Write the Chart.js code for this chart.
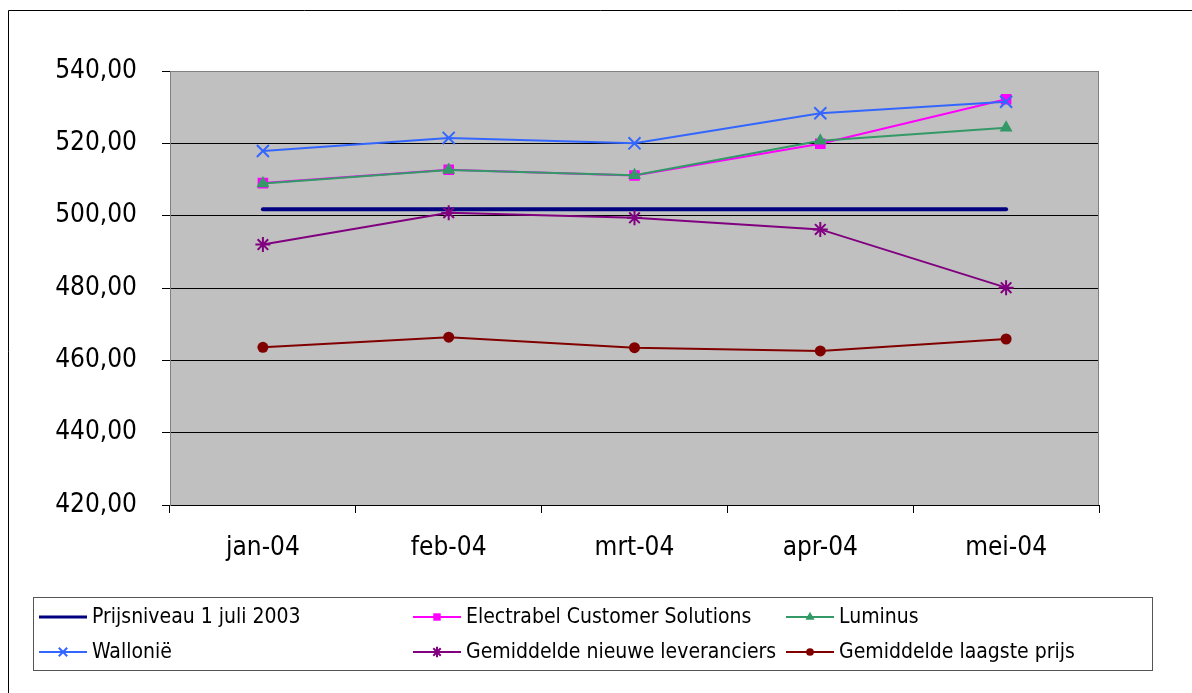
<!DOCTYPE html>
<html>
<head>
<meta charset="utf-8">
<script src="https://cdn.jsdelivr.net/npm/chart.js@4/dist/chart.umd.min.js"></script>
<style>
html, body { margin: 0; padding: 0; background: #fff; }
</style>
</head>
<body>
<canvas id="prijsChart" width="1192" height="693"></canvas>
<script>
// gegevens
const maanden = ['jan-04', 'feb-04', 'mrt-04', 'apr-04', 'mei-04'];
const prijsniveau = [501.8, 501.8, 501.8, 501.8, 501.8];
const electrabel = [509.0, 512.7, 511.1, 519.9, 532.2];
const luminus = [508.9, 512.6, 511.2, 520.7, 524.3];
const wallonie = [517.9, 521.5, 520.0, 528.3, 531.5];
const gemNieuwe = [492.0, 500.8, 499.4, 496.2, 480.1];
const gemLaagste = [463.6, 466.4, 463.5, 462.6, 465.9];
const yTicks = [420, 440, 460, 480, 500, 520, 540];

const fontFam = "'DejaVu Sans Condensed', 'DejaVu Sans', sans-serif";

// achtergrond, kaders en legende
const kaderPlugin = {
    id: 'kader',
    beforeDraw: function (chart) {
        let ctx = chart.ctx;
        let a = chart.chartArea;
        ctx.save();
        ctx.fillStyle = '#ffffff';
        ctx.fillRect(0, 0, chart.width, chart.height);
        ctx.fillStyle = '#c0c0c0';
        ctx.fillRect(a.left, a.top, a.right - a.left, a.bottom - a.top);
        ctx.restore();
    },
    afterDraw: function (chart) {
        let ctx = chart.ctx;
        let a = chart.chartArea;
        ctx.save();
        // rand plotgebied boven en rechts
        ctx.strokeStyle = '#808080';
        ctx.lineWidth = 1;
        ctx.beginPath();
        ctx.moveTo(a.left, a.top + 0.5);
        ctx.lineTo(a.right - 0.5, a.top + 0.5);
        ctx.lineTo(a.right - 0.5, a.bottom);
        ctx.stroke();

        // buitenkader (alleen links en boven zichtbaar)
        ctx.strokeStyle = '#000000';
        ctx.beginPath();
        ctx.moveTo(8.5, chart.height);
        ctx.lineTo(8.5, 10.5);
        ctx.lineTo(chart.width, 10.5);
        ctx.stroke();

        // legende
        ctx.strokeStyle = '#555555';
        ctx.strokeRect(33.5, 597.5, 1119, 73);
        let kolommen = [39, 413, 786];
        let rijen = [617, 652];
        chart.data.datasets.forEach(function (ds, i) {
            let x = kolommen[i % 3];
            let y = rijen[Math.floor(i / 3)];
            ctx.strokeStyle = ds.borderColor;
            ctx.lineWidth = Math.min(ds.borderWidth, 3);
            ctx.beginPath();
            ctx.moveTo(x, y);
            ctx.lineTo(x + 48, y);
            ctx.stroke();
            if (ds.pointRadius > 0) {
                ctx.fillStyle = ds.pointBackgroundColor;
                ctx.strokeStyle = ds.pointBorderColor;
                ctx.lineWidth = ds.pointBorderWidth;
                Chart.helpers.drawPoint(ctx, {
                    pointStyle: ds.pointStyle,
                    radius: ds.pointRadius * 0.7,
                    rotation: 0,
                    borderWidth: ds.pointBorderWidth
                }, x + 24, y);
            }
            ctx.fillStyle = '#000000';
            ctx.font = '21px ' + fontFam;
            ctx.textAlign = 'left';
            ctx.textBaseline = 'middle';
            ctx.fillText(ds.label, x + 53, y + 1);
        });
        ctx.restore();
    }
};

let prijsCanvas = document.getElementById('prijsChart');
let prijsChart = new Chart(prijsCanvas, {
    type: 'line',
    data: {
        labels: maanden,
        datasets: [
            {
                label: 'Prijsniveau 1 juli 2003',
                data: prijsniveau,
                borderColor: '#000080',
                borderWidth: 4,
                pointRadius: 0,
                borderCapStyle: 'round',
                order: 6
            },
            {
                label: 'Electrabel Customer Solutions',
                data: electrabel,
                borderColor: '#ff00ff',
                borderWidth: 2,
                pointStyle: 'rect',
                pointRadius: 7.5,
                pointBackgroundColor: '#ff00ff',
                pointBorderColor: '#ff00ff',
                pointBorderWidth: 0,
                order: 5
            },
            {
                label: 'Luminus',
                data: luminus,
                borderColor: '#339966',
                borderWidth: 2,
                pointStyle: 'triangle',
                pointRadius: 7.5,
                pointBackgroundColor: '#339966',
                pointBorderColor: '#339966',
                pointBorderWidth: 0,
                order: 4
            },
            {
                label: 'Wallonië',
                data: wallonie,
                borderColor: '#3366ff',
                borderWidth: 2,
                pointStyle: 'crossRot',
                pointRadius: 8.5,
                pointBackgroundColor: '#3366ff',
                pointBorderColor: '#3366ff',
                pointBorderWidth: 2,
                order: 3
            },
            {
                label: 'Gemiddelde nieuwe leveranciers',
                data: gemNieuwe,
                borderColor: '#800080',
                borderWidth: 2,
                pointStyle: 'star',
                pointRadius: 7.5,
                pointBackgroundColor: '#800080',
                pointBorderColor: '#800080',
                pointBorderWidth: 2,
                order: 2
            },
            {
                label: 'Gemiddelde laagste prijs',
                data: gemLaagste,
                borderColor: '#800000',
                borderWidth: 2,
                pointStyle: 'circle',
                pointRadius: 5.5,
                pointBackgroundColor: '#800000',
                pointBorderColor: '#800000',
                pointBorderWidth: 0,
                order: 1
            }
        ]
    },
    options: {
        responsive: false,
        animation: false,
        devicePixelRatio: 1,
        layout: {
            padding: { top: 71, right: 93, bottom: 0, left: 0 }
        },
        plugins: {
            legend: { display: false },
            tooltip: { enabled: false }
        },
        elements: {
            line: { tension: 0, fill: false }
        },
        scales: {
            x: {
                offset: true,
                afterFit: function (scale) { scale.height = 188; },
                grid: {
                    offset: true,
                    drawOnChartArea: false,
                    drawTicks: true,
                    tickLength: 8,
                    color: '#000000'
                },
                border: { color: '#000000', width: 1 },
                ticks: {
                    color: '#000000',
                    padding: 20,
                    maxRotation: 0,
                    font: { family: fontFam, size: 26 }
                }
            },
            y: {
                min: 420,
                max: 540,
                afterFit: function (scale) { scale.width = 170; },
                afterBuildTicks: function (scale) {
                    scale.ticks = yTicks.map(function (v) { return { value: v }; });
                },
                grid: {
                    color: function (c) { return c.tick && c.tick.value === 540 ? '#808080' : '#000000'; },
                    tickColor: '#000000',
                    tickLength: 8,
                    lineWidth: 1
                },
                border: { color: '#808080', width: 1 },
                ticks: {
                    color: '#000000',
                    padding: 25,
                    font: { family: fontFam, size: 26 },
                    callback: function (v) { return v.toFixed(2).replace('.', ','); }
                }
            }
        }
    },
    plugins: [kaderPlugin]
});
</script>
</body>
</html>
